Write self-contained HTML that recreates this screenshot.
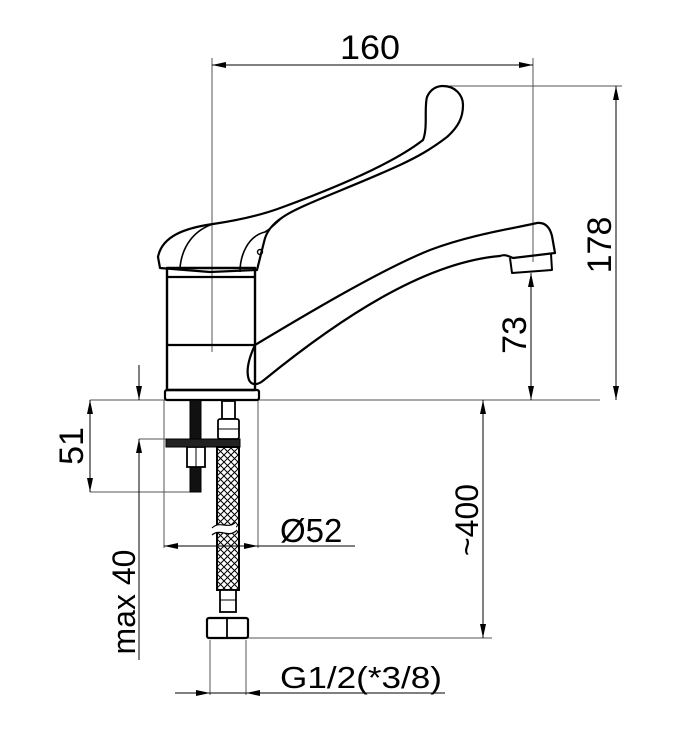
<!DOCTYPE html>
<html><head><meta charset="utf-8"><style>
html,body{margin:0;padding:0;background:#fff;}
svg{display:block;}
text{font-family:"Liberation Sans","DejaVu Sans",sans-serif;fill:#000;}
</style></head><body>
<svg width="674" height="748" viewBox="0 0 674 748" xmlns="http://www.w3.org/2000/svg">
<defs>
<marker id="a" viewBox="0 0 14 6" refX="14" refY="3" markerWidth="14" markerHeight="6" orient="auto-start-reverse" markerUnits="userSpaceOnUse"><path d="M0,0 L14,3 L0,6 z" fill="#000"/></marker>
<pattern id="mesh" width="7" height="7" patternUnits="userSpaceOnUse"><path d="M0,0 L7,7 M7,0 L0,7" stroke="#000" stroke-width="1"/></pattern>
</defs>
<g stroke="#555" stroke-width="1" fill="none">
<line x1="212" y1="58" x2="212" y2="352"/>
<line x1="533" y1="58" x2="533" y2="262"/>
<line x1="443" y1="86" x2="622" y2="86"/>
<line x1="90" y1="400" x2="600" y2="400"/>
<line x1="90" y1="492" x2="192" y2="492"/>
<line x1="139" y1="439" x2="167" y2="439"/>
<line x1="164" y1="400" x2="164" y2="548"/>
<line x1="258" y1="400" x2="258" y2="548"/>
<line x1="248" y1="638" x2="492" y2="638"/>
<line x1="210" y1="640" x2="210" y2="695"/>
<line x1="246" y1="640" x2="246" y2="695"/>
</g>
<g stroke="#000" stroke-width="1" fill="none">
<line x1="212" y1="65" x2="533" y2="65" marker-start="url(#a)" marker-end="url(#a)"/>
<line x1="616" y1="86" x2="616" y2="400" marker-start="url(#a)" marker-end="url(#a)"/>
<line x1="531" y1="273" x2="531" y2="400" marker-start="url(#a)" marker-end="url(#a)"/>
<line x1="90" y1="400" x2="90" y2="492" marker-start="url(#a)" marker-end="url(#a)"/>
<line x1="139" y1="365" x2="139" y2="400" marker-end="url(#a)"/>
<line x1="139" y1="660" x2="139" y2="439" marker-end="url(#a)"/>
<line x1="483" y1="400" x2="483" y2="638" marker-start="url(#a)" marker-end="url(#a)"/>
<line x1="164" y1="546" x2="355" y2="546"/>
<line x1="164" y1="546" x2="182" y2="546" marker-start="url(#a)"/>
<line x1="240" y1="546" x2="258" y2="546" marker-end="url(#a)"/>
<line x1="175" y1="693" x2="445" y2="693"/>
<line x1="192" y1="693" x2="210" y2="693" marker-end="url(#a)"/>
<line x1="264" y1="693" x2="246" y2="693" marker-end="url(#a)"/>
</g>
<g stroke="#000" stroke-width="2.2" fill="none" stroke-linejoin="round">
<path d="M160,268 L158,257 C162,236 185,228 213,224 C240,220 262,215 283,207 C340,186 395,162 423,140 C428,128 424,108 427,97 C431,88 438,86 443,86 C455,86 463,95 463,105 C463,118 458,127 447,137 C430,150 417,157 400,165 C350,188 300,205 283,217 C272,224 266,232 264,242 L257,270 L210,272 Z"/>
<path d="M180,268 C182,245 195,230 213,224" stroke-width="1.6"/>
<path d="M240,272 C240,255 248,236 265,232 C272,228 277,222 283,217" stroke-width="1.6"/>
<circle cx="260" cy="252" r="2.5" stroke-width="1.4"/>
<rect x="167" y="268" width="88" height="122" stroke-width="2.4"/>
<line x1="167" y1="277" x2="255" y2="277"/>
<line x1="167" y1="345" x2="255" y2="345"/>
<rect x="165" y="390" width="94" height="10" rx="2"/>
<path d="M255,345 C300,318 380,270 430,250 C470,235 510,229 537,223 C546,222 550,228 552,236 L555,253 L513,258 C508,256 505,254 500,256 C430,262 350,310 264,380 C258,385 252,386 249,380 C246,372 248,360 255,345 Z"/>
<path d="M510,258 L512,273 L552,270 L551,254" stroke-width="2"/>
</g>
<g stroke="#000" fill="none">
<rect x="190" y="400" width="11" height="92" fill="#111" stroke-width="1"/>
<rect x="187" y="447" width="18" height="20" fill="#fff" stroke-width="1.8"/>
<line x1="196" y1="447" x2="196" y2="467" stroke-width="1"/>
<rect x="166" y="439" width="74" height="8" fill="#222" stroke-width="1"/>
<rect x="222" y="401" width="13" height="18" fill="#fff" stroke-width="1.8"/>
<rect x="218" y="419" width="21" height="20" rx="2" fill="#fff" stroke-width="1.8"/>
<line x1="218" y1="429" x2="239" y2="429" stroke-width="1"/>
<rect x="217" y="447" width="22" height="143" fill="url(#mesh)" stroke-width="2"/>
<path d="M212,528 C220,520 228,530 236,522 L236,531 C228,538 220,528 212,535 Z" fill="#fff" stroke="none"/>
<path d="M212,528 C220,520 228,530 236,522 M212,535 C220,528 228,538 236,531" stroke-width="1.2"/>
<rect x="220" y="590" width="16" height="22" fill="#fff" stroke-width="1.8"/>
<line x1="220" y1="600" x2="236" y2="600" stroke-width="1"/>
<rect x="207" y="618" width="41" height="20" rx="2" fill="#fff" stroke-width="2.2"/>
<line x1="227" y1="618" x2="227" y2="638" stroke-width="1.8"/>
</g>
<text x="370" y="59" font-size="34" text-anchor="middle" textLength="60" lengthAdjust="spacingAndGlyphs">160</text>
<text transform="translate(611,245) rotate(-90)" font-size="34" text-anchor="middle">178</text>
<text transform="translate(526,335) rotate(-90)" font-size="34" text-anchor="middle">73</text>
<text transform="translate(83,446) rotate(-90)" font-size="34" text-anchor="middle">51</text>
<text transform="translate(135,602) rotate(-90)" font-size="32" text-anchor="middle">max 40</text>
<text transform="translate(478,520) rotate(-90)" font-size="32" text-anchor="middle">~400</text>
<text x="280" y="542" font-size="33">Ø52</text>
<text x="280" y="688" font-size="31" textLength="162" lengthAdjust="spacingAndGlyphs">G1/2(*3/8)</text>
</svg>
</body></html>
